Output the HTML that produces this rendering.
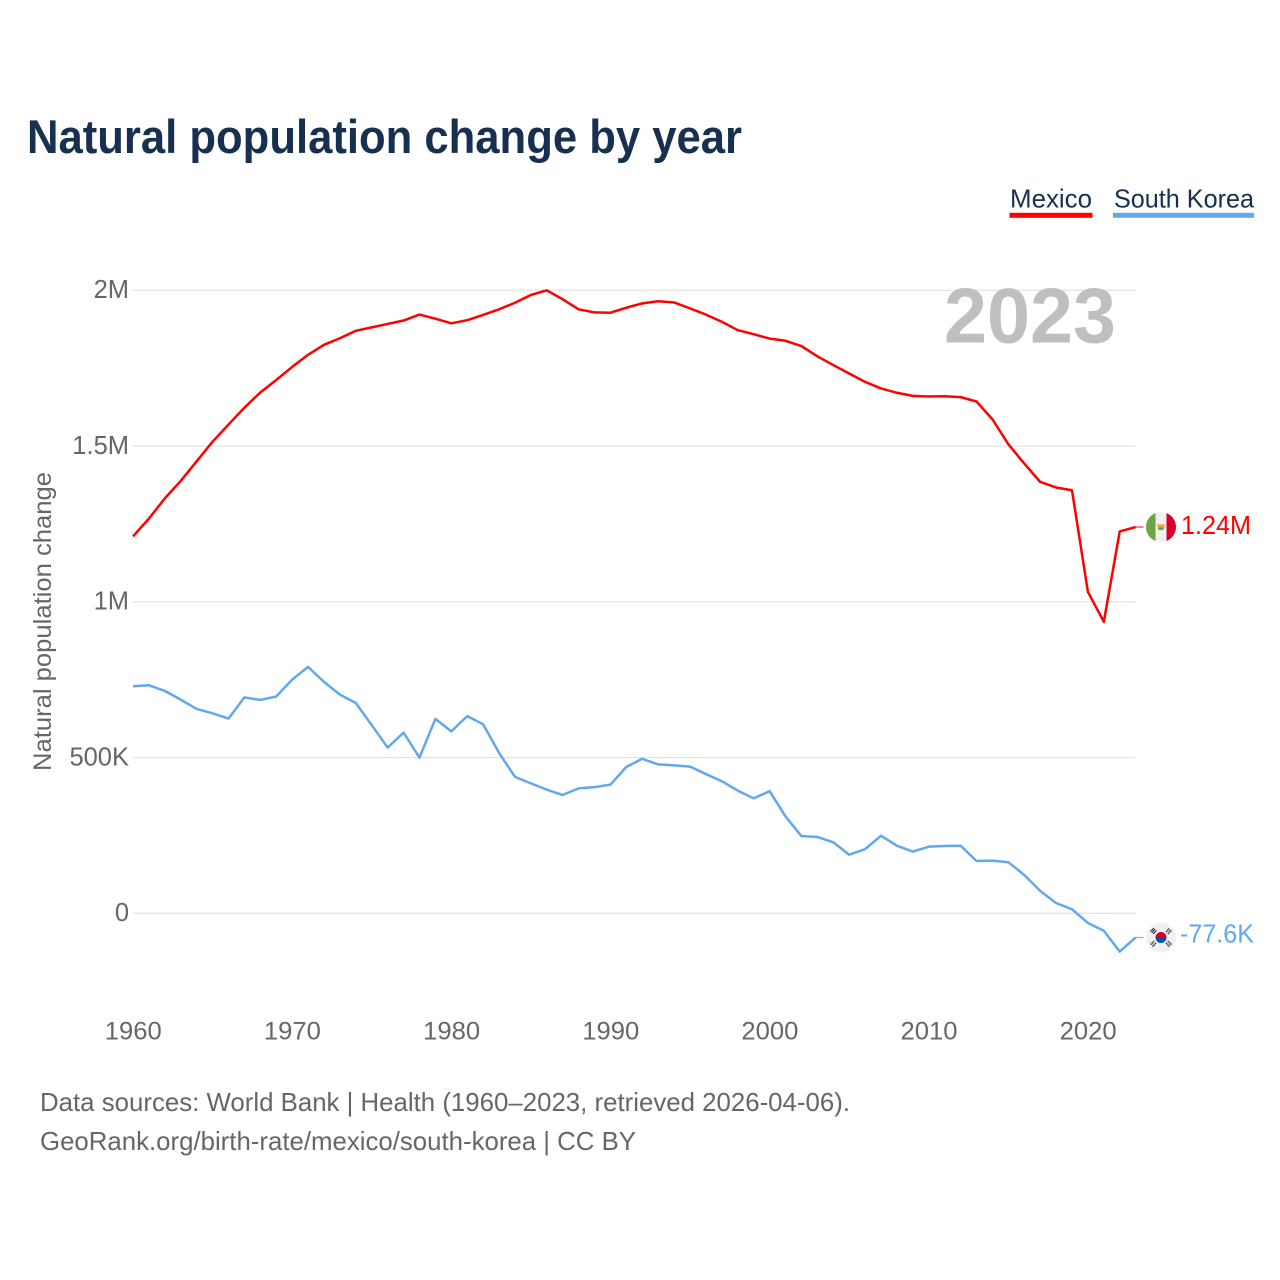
<!DOCTYPE html>
<html lang="en">
<head>
<meta charset="utf-8">
<title>Natural population change by year</title>
<style>
html,body{margin:0;padding:0;background:#fff;width:1280px;height:1280px;overflow:hidden}
svg{display:block}
text{font-family:"Liberation Sans",sans-serif}
</style>
</head>
<body>
<svg id="chart" xmlns="http://www.w3.org/2000/svg" width="1280" height="1280" viewBox="0 0 1280 1280">
  <defs>
    <clipPath id="flag-clip"><circle cx="0" cy="0" r="15"/></clipPath>
  </defs>
  <rect x="0" y="0" width="1280" height="1280" fill="#ffffff"/>
  <text x="27" y="153" font-size="47" font-weight="700" fill="#17304f" textLength="715" lengthAdjust="spacingAndGlyphs">Natural population change by year</text>

  <g>
    <g>
      <text x="1010" y="207.5" font-size="26" fill="#17304f" textLength="82" lengthAdjust="spacingAndGlyphs">Mexico</text>
      <rect x="1009.5" y="212.8" width="83" height="5" fill="#ff0000"/>
    </g>
    <g>
      <text x="1114" y="207.5" font-size="26" fill="#17304f" textLength="140" lengthAdjust="spacingAndGlyphs">South Korea</text>
      <rect x="1113" y="212.8" width="141" height="5" fill="#62a8ec"/>
    </g>
  </g>

  <g id="grid"></g>
  <g id="y-axis"></g>
  <g id="x-axis"></g>

  <text x="944" y="342.5" font-size="78" font-weight="700" fill="#bfbfbf" textLength="172" lengthAdjust="spacingAndGlyphs">2023</text>

  <text transform="translate(51,771) rotate(-90)" font-size="25" fill="#666666" textLength="299" lengthAdjust="spacingAndGlyphs">Natural population change</text>

  <g id="series"></g>

  <g id="flag-mexico">
    <g clip-path="url(#flag-clip)">
      <rect x="-15" y="-15" width="30" height="30" fill="#f0f0f0"/>
      <rect x="-15" y="-15" width="9.5" height="30" fill="#6da544"/>
      <rect x="5.5" y="-15" width="9.5" height="30" fill="#d80027"/>
      <path d="M-4.5 -2.5 L4.5 -2.5 L2.5 0.5 L-2.5 0.5 Z" fill="#f59f2c"/>
      <path d="M-3.5 0.5 A3.6 3.6 0 0 0 3.5 0.5 Z" fill="#6da544"/>
    </g>
  </g>

  <g id="flag-south-korea">
    <g clip-path="url(#flag-clip)">
      <rect x="-15" y="-15" width="30" height="30" fill="#f0f0f0"/>
      <path d="M-5.5 0 A5.5 5.5 0 0 1 5.5 0 Z" fill="#d80027"/>
      <path d="M-5.5 0 A5.5 5.5 0 0 0 5.5 0 Z" fill="#0052b4"/>
      <g stroke="#2a2a2a" stroke-width="1.1">
        <path d="M-10.5 -6 L-7 -9.5 M-9.3 -4.8 L-5.8 -8.3 M-8 -3.5 L-4.5 -7"/>
        <path d="M10.5 -6 L7 -9.5 M9.3 -4.8 L5.8 -8.3 M8 -3.5 L4.5 -7" stroke-dasharray="1.8 0.8"/>
        <path d="M-10.5 6 L-7 9.5 M-9.3 4.8 L-5.8 8.3 M-8 3.5 L-4.5 7" stroke-dasharray="1.8 0.8"/>
        <path d="M10.5 6 L7 9.5 M9.3 4.8 L5.8 8.3 M8 3.5 L4.5 7" stroke-dasharray="1.8 0.8"/>
      </g>
    </g>
  </g>

  <text id="label-mexico" x="1181" font-size="25.5" fill="#ff0000" textLength="70" lengthAdjust="spacingAndGlyphs"></text>
  <text id="label-south-korea" x="1180" font-size="25.5" fill="#62a8ec" textLength="74" lengthAdjust="spacingAndGlyphs"></text>

  <text x="40" y="1111" font-size="26" fill="#666666" textLength="810" lengthAdjust="spacingAndGlyphs">Data sources: World Bank | Health (1960–2023, retrieved 2026-04-06).</text>
  <text x="40" y="1150" font-size="26" fill="#666666" textLength="596" lengthAdjust="spacingAndGlyphs">GeoRank.org/birth-rate/mexico/south-korea | CC BY</text>
</svg>
<script>
const startYear = 1960;
const mexicoValues = [1210,1267,1332,1388,1451,1514,1569,1623,1672,1712,1754,1793,1825,1846,1870,1881,1892,1903,1922,1909,1894,1904,1921,1939,1960,1985,2000,1971,1939,1929,1928,1944,1958,1965,1961,1942,1922,1899,1872,1859,1845,1838,1821,1788,1760,1733,1706,1685,1671,1661,1659,1660,1657,1643,1586,1506,1444,1385,1367,1358,1032,936,1226,1240];
const koreaValues = [729,732,714,686,656,642,625,693,685,696,750,791,743,702,675,604,532,580,500,624,584,633,607,515,438,417,397,380,401,405,413,470,496,478,475,471,447,424,394,369,392,311,248,245,228,188,206,249,217,198,214,216,217,168,169,164,123,72,33,13,-31,-56,-123,-77.6];
const yTickValues = [0,500,1000,1500,2000];
const yTickLabels = ['0','500K','1M','1.5M','2M'];
const xTickYears = [1960,1970,1980,1990,2000,2010,2020];
const mexicoEndLabel = '1.24M';
const koreaEndLabel = '-77.6K';

const SVG_NS = 'http://www.w3.org/2000/svg';
function xScale(year){ return 133 + (year - 1960) * 15.915; }
function yScale(value){ return 913.3 - value * 0.3115; }
function make(tag, parent, attrs, text){
  const el = document.createElementNS(SVG_NS, tag);
  for (const k in attrs) el.setAttribute(k, attrs[k]);
  if (text !== undefined) el.textContent = text;
  parent.appendChild(el);
  return el;
}

const gridGroup = document.getElementById('grid');
const yAxisGroup = document.getElementById('y-axis');
yTickValues.forEach(function(v, i){
  const line = make('line', gridGroup, {x1:xScale(1960), x2:xScale(2023), y1:yScale(v), y2:yScale(v), stroke:'#e6e6e6', 'stroke-width':1.3});
  
  
  const label = make('text', yAxisGroup, {x:129, y:yScale(v) + 7.7, 'text-anchor':'end', 'font-size':25.5, fill:'#666666'}, yTickLabels[i]);
  
  
});

const xAxisGroup = document.getElementById('x-axis');
xTickYears.forEach(function(yr){
  const label = make('text', xAxisGroup, {x:xScale(yr) + 0.3, y:1039.3, 'text-anchor':'middle', 'font-size':25, fill:'#666666', textLength:57, lengthAdjust:'spacingAndGlyphs'}, String(yr));
  
  
});

function pathFor(values){
  return values.map(function(v, i){
    return (i ? 'L' : 'M') + xScale(startYear + i).toFixed(2) + ' ' + yScale(v).toFixed(2);
  }).join(' ');
}

const seriesGroup = document.getElementById('series');
const mexicoLine = make('path', seriesGroup, {d:pathFor(mexicoValues), fill:'none', stroke:'#ff0000', 'stroke-width':2.5, 'stroke-linejoin':'round'});


const koreaLine = make('path', seriesGroup, {d:pathFor(koreaValues), fill:'none', stroke:'#62a8ec', 'stroke-width':2.5, 'stroke-linejoin':'round'});



const lastYear = startYear + mexicoValues.length - 1;
const mexicoEndY = yScale(mexicoValues[mexicoValues.length - 1]);
const koreaEndY = yScale(koreaValues[koreaValues.length - 1]);

const mexicoConnector = make('line', seriesGroup, {x1:xScale(lastYear), x2:1143.5, y1:mexicoEndY, y2:mexicoEndY, stroke:'#ff0000', 'stroke-width':1.3, opacity:0.75});


const koreaConnector = make('line', seriesGroup, {x1:xScale(lastYear), x2:1143.5, y1:koreaEndY, y2:koreaEndY, stroke:'#62a8ec', 'stroke-width':1.3, opacity:0.85});



document.getElementById('flag-mexico').setAttribute('transform', 'translate(1161,' + mexicoEndY + ')');
document.getElementById('flag-south-korea').setAttribute('transform', 'translate(1161,' + koreaEndY + ')');

const mexicoLabel = document.getElementById('label-mexico');
mexicoLabel.setAttribute('y', mexicoEndY + 6.8);
mexicoLabel.textContent = mexicoEndLabel;
const koreaLabel = document.getElementById('label-south-korea');
koreaLabel.setAttribute('y', koreaEndY + 5.2);
koreaLabel.textContent = koreaEndLabel;
</script>
</body>
</html>
